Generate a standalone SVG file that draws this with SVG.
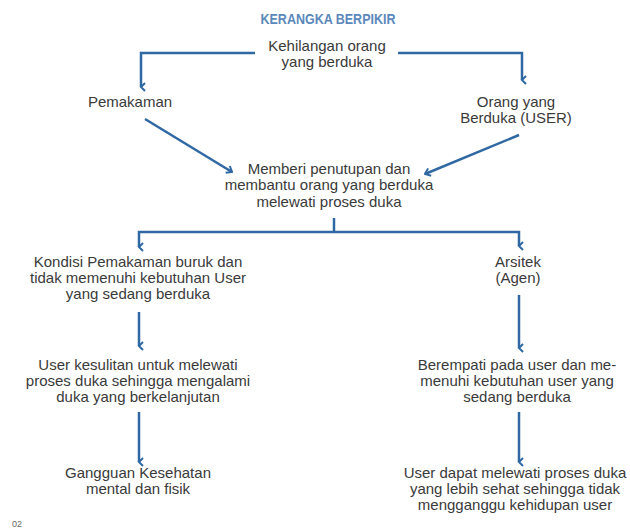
<svg xmlns="http://www.w3.org/2000/svg" width="630" height="529" viewBox="0 0 630 529">
<defs>
<marker id="ah" viewBox="0 0 10 10" refX="5" refY="8" markerWidth="10" markerHeight="10" markerUnits="userSpaceOnUse" orient="auto-start-reverse">
<path d="M1,4 L5,8 L9,4" fill="none" stroke="#2f68a3" stroke-width="2"/>
</marker>
<marker id="ad" viewBox="0 0 10 10" refX="9" refY="5" markerWidth="10" markerHeight="10" markerUnits="userSpaceOnUse" orient="auto">
<path d="M4,1 L9,5 L4,9" fill="none" stroke="#2f68a3" stroke-width="2"/>
</marker>
<style>
.t{font-family:"Liberation Sans",Arial,sans-serif;font-size:15px;fill:#3a3a3a;text-anchor:middle}
.c{fill:none;stroke:#2f68a3;stroke-width:2.5}
</style>
</defs>
<rect width="630" height="529" fill="#ffffff"/>
<text x="328" y="24" font-family="Liberation Sans,Arial,sans-serif" font-size="15" font-weight="bold" fill="#5b88bb" text-anchor="middle" textLength="135" lengthAdjust="spacingAndGlyphs">KERANGKA BERPIKIR</text>
<g id="connectors">
<polyline class="c" points="255,53 141,53 141,87" marker-end="url(#ah)"/>
<polyline class="c" points="398,53 522,53 522,80" marker-end="url(#ah)"/>
<line class="c" x1="145" y1="119" x2="232" y2="172" marker-end="url(#ad)"/>
<line class="c" x1="519" y1="135" x2="425" y2="174" marker-end="url(#ad)"/>
<polyline class="c" points="334,218 334,232"/>
<polyline class="c" points="139,246 139,232 519,232 519,246" marker-end="url(#ah)"/>
<line class="c" x1="139" y1="246" x2="139" y2="247" marker-end="url(#ah)"/>
<line class="c" x1="139" y1="312" x2="139" y2="346" marker-end="url(#ah)"/>
<line class="c" x1="139" y1="412" x2="139" y2="462" marker-end="url(#ah)"/>
<line class="c" x1="519" y1="295" x2="519" y2="348" marker-end="url(#ah)"/>
<line class="c" x1="519" y1="412" x2="519" y2="462" marker-end="url(#ah)"/>
</g>
<g id="n-kehilangan"><text class="t" x="327" y="51">Kehilangan orang</text><text class="t" x="327" y="67">yang berduka</text></g>
<g id="n-pemakaman"><text class="t" x="130" y="107">Pemakaman</text></g>
<g id="n-orang"><text class="t" x="516" y="107">Orang yang</text><text class="t" x="516" y="123">Berduka (USER)</text></g>
<g id="n-memberi"><text class="t" x="329" y="174">Memberi penutupan dan</text><text class="t" x="329" y="190">membantu orang yang berduka</text><text class="t" x="329" y="207">melewati proses duka</text></g>
<g id="n-kondisi"><text class="t" x="138" y="267">Kondisi Pemakaman buruk dan</text><text class="t" x="138" y="283">tidak memenuhi kebutuhan User</text><text class="t" x="138" y="299">yang sedang berduka</text></g>
<g id="n-arsitek"><text class="t" x="518" y="267">Arsitek</text><text class="t" x="518" y="283">(Agen)</text></g>
<g id="n-kesulitan"><text class="t" x="138" y="370">User kesulitan untuk melewati</text><text class="t" x="138" y="386">proses duka sehingga mengalami</text><text class="t" x="138" y="402">duka yang berkelanjutan</text></g>
<g id="n-berempati"><text class="t" x="517" y="370">Berempati pada user dan me-</text><text class="t" x="517" y="386">menuhi kebutuhan user yang</text><text class="t" x="517" y="402">sedang berduka</text></g>
<g id="n-gangguan"><text class="t" x="138" y="478">Gangguan Kesehatan</text><text class="t" x="138" y="494">mental dan fisik</text></g>
<g id="n-user-dapat"><text class="t" x="515" y="478">User dapat melewati proses duka</text><text class="t" x="515" y="494">yang lebih sehat sehingga tidak</text><text class="t" x="515" y="510">mengganggu kehidupan user</text></g>
<text x="12" y="527" font-family="Liberation Sans,Arial,sans-serif" font-size="9" fill="#666666">02</text>
</svg>
